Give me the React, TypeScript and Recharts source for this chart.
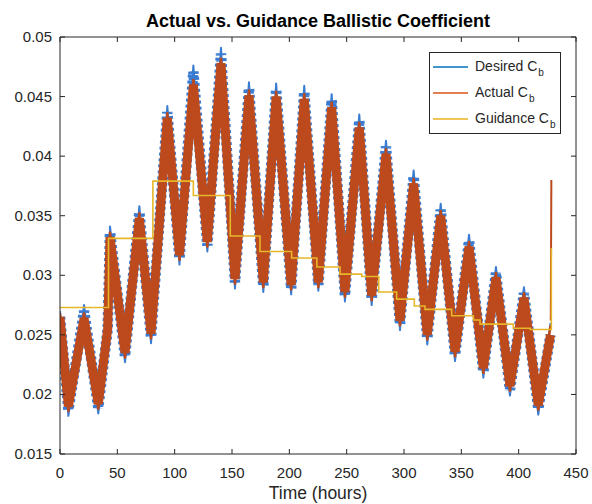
import React from 'react';
import { ComposedChart, Line, XAxis, YAxis, Legend } from 'recharts';

// ---- data (turning points of the oscillating traces) ----
const turnTime = [0, 7.3, 21, 33.4, 41.6, 43.6, 56.7, 69.2, 79.4, 93.6, 104.2, 116.3, 128.5, 140.4, 152.6, 164.8, 177.3, 188.5, 201.6, 213, 225.3, 236.9, 248.5, 261, 271.8, 284.3, 296.5, 308.4, 320.3, 332, 344.5, 356.7, 369.2, 380.2, 392.4, 404.6, 417.1, 427.8];

// centre of the dense desired-C_b band, and its extreme tips
const desiredMid = [0.0265, 0.0187, 0.0270, 0.0189, 0.0255, 0.0336, 0.0232, 0.0353, 0.0248, 0.0437, 0.0314, 0.0471, 0.0325, 0.0486, 0.0294, 0.0457, 0.0291, 0.0456, 0.0289, 0.0454, 0.0292, 0.0447, 0.0283, 0.0430, 0.0280, 0.0408, 0.0259, 0.0383, 0.0247, 0.0355, 0.0233, 0.0329, 0.0219, 0.0302, 0.0204, 0.0285, 0.0188, 0.0250];
const desiredTip = [0.0270, 0.0182, 0.0275, 0.0184, 0.0255, 0.0341, 0.0227, 0.0358, 0.0243, 0.0442, 0.0309, 0.0476, 0.0320, 0.0491, 0.0289, 0.0462, 0.0286, 0.0461, 0.0284, 0.0459, 0.0287, 0.0452, 0.0278, 0.0435, 0.0275, 0.0413, 0.0254, 0.0388, 0.0242, 0.0360, 0.0228, 0.0334, 0.0214, 0.0307, 0.0199, 0.0290, 0.0183, 0.0260];

// centre of the dense actual-C_b band, and its extreme tips
const actualMid = [0.0265, 0.0190, 0.0264, 0.0192, 0.0255, 0.0332, 0.0235, 0.0348, 0.0251, 0.0432, 0.0317, 0.0460, 0.0328, 0.0478, 0.0297, 0.0451, 0.0294, 0.0450, 0.0292, 0.0448, 0.0294, 0.0441, 0.0286, 0.0424, 0.0283, 0.0402, 0.0262, 0.0377, 0.0250, 0.0350, 0.0236, 0.0324, 0.0222, 0.0298, 0.0207, 0.0281, 0.0191, 0.0250];
const actualTip = [0.0268, 0.0186, 0.0268, 0.0188, 0.0255, 0.0336, 0.0231, 0.0352, 0.0247, 0.0436, 0.0313, 0.0464, 0.0324, 0.0482, 0.0293, 0.0455, 0.0290, 0.0454, 0.0288, 0.0452, 0.0290, 0.0445, 0.0282, 0.0428, 0.0279, 0.0406, 0.0258, 0.0381, 0.0246, 0.0354, 0.0232, 0.0328, 0.0218, 0.0302, 0.0203, 0.0285, 0.0187, 0.0258];

// final spike of the actual trace at the end of the run
const spikeTime = [428.0, 428.5];
const spikeValue = [0.0262, 0.0380];

const guidanceTime = [0, 42.3, 81.0, 116.3, 148.5, 174.4, 202, 224, 244.2, 263.1, 278, 293.6, 309, 318.3, 341.6, 360.5, 366.3, 395.3, 410, 428.5];
const guidanceValue = [0.0273, 0.0331, 0.0379, 0.0367, 0.0333, 0.0320, 0.03145, 0.0307, 0.0301, 0.0299, 0.0286, 0.0280, 0.02742, 0.02714, 0.0266, 0.02625, 0.0259, 0.02555, 0.02545, 0.0323];

const xTicks = [0, 50, 100, 150, 200, 250, 300, 350, 400, 450];
const yTicks = [0.015, 0.02, 0.025, 0.03, 0.035, 0.04, 0.045, 0.05];

const legendNames = ['Desired', 'Actual', 'Guidance'];
const titleText = 'Actual vs. Guidance Ballistic Coefficient';
const xLabelText = 'Time (hours)';

// ---- styles ----
const FONT = '"Liberation Sans", Arial, Helvetica, sans-serif';
const AXIS = '#262626';
const BLUE = '#3a7cd2';
const RED = '#bc4a1d';
const YELLOW = '#e6b72a';
const legendColors = ['#0072BD', '#D95319', '#EDB120'];

const traceData = turnTime.map((t, i) => ({
  t,
  dMid: desiredMid[i],
  dTip: desiredTip[i],
  aMid: actualMid[i],
  aTip: actualTip[i],
}));
const spikeData = spikeTime.map((t, i) => ({ t, v: spikeValue[i] }));
const guidanceData = guidanceTime.map((t, i) => ({ t, g: guidanceValue[i] }));

const BottomTick = (props: any) => {
  const { x, y, payload } = props;
  return (
    <g>
      <line x1={x} y1={y} x2={x} y2={y - 5} stroke={AXIS} strokeWidth={1} />
      <text x={x} y={y + 24} textAnchor="middle" fontFamily={FONT} fontSize={15} fill={AXIS}>
        {String(payload.value)}
      </text>
    </g>
  );
};

const TopTick = (props: any) => {
  const { x, y } = props;
  return <line x1={x} y1={y} x2={x} y2={y + 5} stroke={AXIS} strokeWidth={1} />;
};

const LeftTick = (props: any) => {
  const { x, y, payload } = props;
  return (
    <g>
      <line x1={x} y1={y} x2={x + 5} y2={y} stroke={AXIS} strokeWidth={1} />
      <text x={x - 8} y={y + 5} textAnchor="end" fontFamily={FONT} fontSize={15} fill={AXIS}>
        {String(payload.value)}
      </text>
    </g>
  );
};

const RightTick = (props: any) => {
  const { x, y } = props;
  return <line x1={x} y1={y} x2={x - 5} y2={y} stroke={AXIS} strokeWidth={1} />;
};

const TitleLabel = (props: any) => {
  const vb = props.viewBox || { x: 60, width: 516 };
  return (
    <text x={vb.x + vb.width / 2} y={27} textAnchor="middle" fontFamily={FONT} fontSize={18} fontWeight="bold" fill="#000">
      {titleText}
    </text>
  );
};

const XLabel = (props: any) => {
  const vb = props.viewBox || { x: 60, width: 516 };
  return (
    <text x={vb.x + vb.width / 2} y={499} textAnchor="middle" fontFamily={FONT} fontSize={17.5} fill={AXIS}>
      {xLabelText}
    </text>
  );
};

const LegendBox = () => (
  <div
    style={{
      width: 132,
      height: 82,
      border: `1px solid ${AXIS}`,
      background: '#fff',
      boxSizing: 'border-box',
      fontFamily: FONT,
      fontSize: 14,
      color: AXIS,
      paddingTop: 1,
    }}
  >
    {legendNames.map((n, i) => (
      <div key={n} style={{ display: 'flex', alignItems: 'center', height: 26 }}>
        <svg width={42} height={10} style={{ flex: 'none', marginLeft: 3 }}>
          <line x1={0} y1={5} x2={35} y2={5} stroke={legendColors[i]} strokeWidth={1.5} />
        </svg>
        <span style={{ whiteSpace: 'nowrap', lineHeight: '16px' }}>
          {n} C
          <span style={{ fontSize: 10, position: 'relative', top: 5, marginLeft: 1 }}>b</span>
        </span>
      </div>
    ))}
  </div>
);

const common = {
  xAxisId: 'b',
  yAxisId: 'l',
  type: 'linear' as const,
  dot: false,
  isAnimationActive: false,
  legendType: 'none' as const,
};

export default function App() {
  return (
    <div style={{ position: 'absolute', left: 0, top: 0, width: 592, height: 504, background: '#fff' }}>
      <ComposedChart width={592} height={504} margin={{ top: 0, right: 0, bottom: 0, left: 0 }}>
        <XAxis
          xAxisId="b"
          dataKey="t"
          type="number"
          domain={[0, 450]}
          ticks={xTicks}
          orientation="bottom"
          height={50}
          tickSize={0}
          tickMargin={0}
          tick={BottomTick}
          stroke={AXIS}
          allowDataOverflow
          label={{ content: XLabel }}
        />
        <XAxis
          xAxisId="top"
          dataKey="t"
          type="number"
          domain={[0, 450]}
          ticks={xTicks}
          orientation="top"
          height={37}
          tickSize={0}
          tickMargin={0}
          tick={TopTick}
          stroke={AXIS}
          allowDataOverflow
          label={{ content: TitleLabel }}
        />
        <YAxis
          yAxisId="l"
          type="number"
          domain={[0.015, 0.05]}
          ticks={yTicks}
          width={60}
          tickSize={0}
          tickMargin={0}
          tick={LeftTick}
          stroke={AXIS}
          allowDataOverflow
        />
        <YAxis
          yAxisId="r"
          orientation="right"
          type="number"
          domain={[0.015, 0.05]}
          ticks={yTicks}
          width={16}
          tickSize={0}
          tickMargin={0}
          tick={RightTick}
          stroke={AXIS}
          allowDataOverflow
        />
        <Line {...common} data={traceData} dataKey="dMid" stroke={BLUE} strokeWidth={10.5} strokeDasharray="3 3" strokeLinejoin="bevel" strokeLinecap="butt" />
        <Line {...common} data={traceData} dataKey="dTip" stroke={BLUE} strokeWidth={2} strokeLinejoin="round" />
        <Line {...common} data={traceData} dataKey="aMid" stroke={RED} strokeWidth={9} strokeLinejoin="bevel" strokeLinecap="butt" />
        <Line {...common} data={traceData} dataKey="aTip" stroke={RED} strokeWidth={2.5} strokeLinejoin="round" />
        <Line {...common} data={spikeData} dataKey="v" stroke={RED} strokeWidth={2} />
        <Line {...common} data={guidanceData} dataKey="g" type="stepAfter" stroke={YELLOW} strokeWidth={1.6} />
        <Line {...common} xAxisId="top" yAxisId="r" data={guidanceData} dataKey="g" type="stepAfter" stroke="none" />
        <Legend
          layout="horizontal"
          verticalAlign="middle"
          align="center"
          content={LegendBox}
          wrapperStyle={{ left: 429, top: 52, width: 132, height: 82 }}
        />
      </ComposedChart>
    </div>
  );
}
